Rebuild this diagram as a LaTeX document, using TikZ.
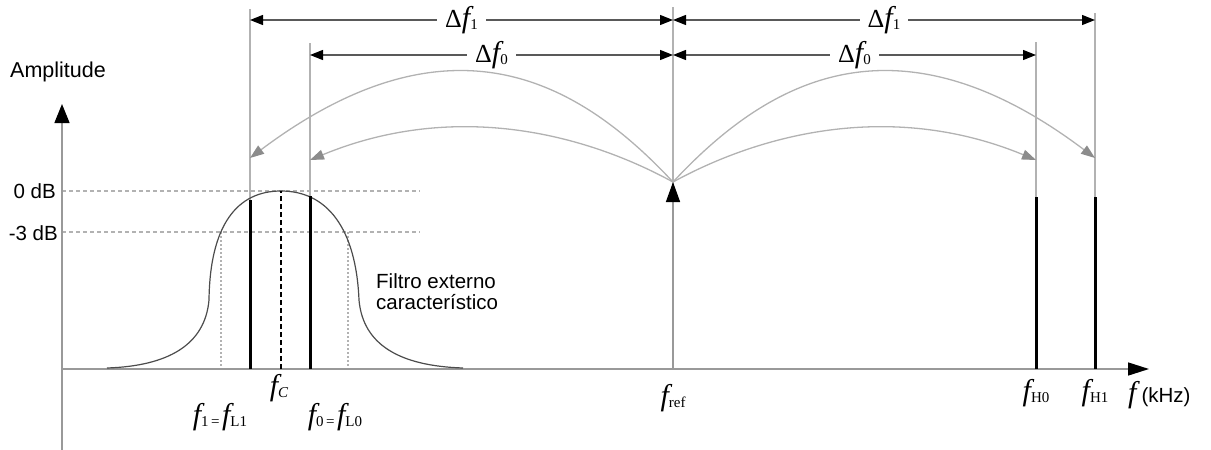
\documentclass[tikz,border=0pt]{standalone}
\usepackage{fontspec}
\setmainfont{Liberation Sans}
\newfontfamily\tms{Liberation Serif}
\usetikzlibrary{arrows.meta, positioning}

% frequency symbol and its small index
\newcommand{\ff}{{\tms\fontsize{30}{30}\selectfont\itshape f}}
\newcommand{\sbs}[1]{\raisebox{-0.45ex}{\tms\fontsize{15}{15}\selectfont #1}}
\newcommand{\dd}{{\tms\fontsize{26}{26}\selectfont Δ}}

\begin{document}
\begin{tikzpicture}[x=1pt, y=-1pt,
	ax/.style={draw=black!40, line width=1.5pt},
	guide/.style={draw=black!30, line width=1.2pt},
	tone/.style={line width=3pt},
	level/.style={draw=black!30, line width=1.2pt, dash pattern=on 4pt off 3pt},
	dim/.style={draw=black!65, line width=1.3pt,
		{Triangle[length=13pt,width=10pt,color=black]}-{Triangle[length=13pt,width=10pt,color=black]}},
	jump/.style={draw=black!30, line width=1.3pt, -{Triangle[length=14pt,width=10pt,color=black!45]}},
	dlbl/.style={fill=white, inner xsep=8pt, inner ysep=0pt},
	flbl/.style={inner sep=0pt},
	txt/.style={font=\fontsize{20.5}{21}\selectfont, inner sep=0pt}]
	\useasboundingbox (0,0) rectangle (1211,450);
	% puntos sobre el eje de frecuencia
	\coordinate (O) at (62,369);
	\coordinate (f1) at (250,369);
	\coordinate (fc) at (281,369);
	\coordinate (f0) at (310,369);
	\coordinate (fr) at (673,369);
	\coordinate (fh0) at (1036,369);
	\coordinate (fh1) at (1095,369);
	% niveles 0 dB y -3 dB
	\draw[level] (O |- 0,191) -- (420,191);
	\draw[level] (O |- 0,232) -- (420,232);
	\draw[black!30, line width=1.2pt, dash pattern=on 2pt off 2pt] (221,232) -- (221,369);
	\draw[black!30, line width=1.2pt, dash pattern=on 2pt off 2pt] (348,232) -- (348,369);
	% ejes
	\coordinate (ybot) at (62,450);
	\draw[ax, -{Triangle[length=19pt,width=15pt,color=black]}] (ybot) -- (62,104) coordinate (ytop);
	\draw[ax, -{Triangle[length=21pt,width=13pt,color=black]}] (O) -- (1149,369) coordinate (xend);
	% lineas guia
	\draw[guide] (f1) -- (f1 |- 0,9);
	\draw[guide] (f0) -- (f0 |- 0,43);
	\draw[guide] (fr) -- (fr |- 0,7);
	\draw[guide] (fh0) -- (fh0 |- 0,42);
	\draw[guide] (fh1) -- (fh1 |- 0,13);
	% filtro
	\draw[black!70, line width=1.2pt] (107,368) .. controls (168,366) and (205,345) .. (209,300)
		.. controls (210,225) and (237,191) .. (281,191)
		.. controls (327,191) and (356,228) .. (359,300)
		.. controls (363,345) and (400,366) .. (463,368);
	% tonos
	\draw[tone] (f1) -- (f1 |- 0,200);
	\draw[tone] (f0) -- (f0 |- 0,196);
	\draw[tone] (fh0) -- (fh0 |- 0,197);
	\draw[tone] (fh1) -- (fh1 |- 0,197);
	\draw[line width=2pt, dash pattern=on 5pt off 3pt] (fc) -- (fc |- 0,191);
	\draw[ax, -{Triangle[length=20pt,width=14pt,color=black]}] (fr) -- (fr |- 0,182) coordinate (src);
	% saltos
	\draw[jump] (src) .. controls (578,80) and (450,8) .. (f1 |- 0,158);
	\draw[jump] (src) .. controls (576,129) and (448,103) .. (f0 |- 0,160);
	\draw[jump] (src) .. controls (768,80) and (896,8) .. (fh1 |- 0,158);
	\draw[jump] (src) .. controls (770,129) and (898,103) .. (fh0 |- 0,160);
	% cotas
	\draw[dim] (f1 |- 0,20) -- node[dlbl] {\dd\ff\sbs{1}} (fr |- 0,20);
	\draw[dim] (fr |- 0,20) -- node[dlbl] {\dd\ff\sbs{1}} (fh1 |- 0,20);
	\draw[dim] (f0 |- 0,55) -- node[dlbl] {\dd\ff\sbs{0}} (fr |- 0,55);
	\draw[dim] (fr |- 0,55) -- node[dlbl] {\dd\ff\sbs{0}} (fh0 |- 0,55);
	% etiquetas
	\node[flbl, below=5pt of fc, xshift=-2pt] {\ff\sbs{\itshape C}};
	\node[flbl, anchor=north] at (220,403) {\ff\sbs{1\,=\,}\ff\sbs{L1}};
	\node[flbl, anchor=north] at (335,403) {\ff\sbs{0\,=\,}\ff\sbs{L0}};
	\node[flbl, below=15pt of fr] {\ff\sbs{ref}};
	\node[flbl, below=10pt of fh0] {\ff\sbs{H0}};
	\node[flbl, below=10pt of fh1] {\ff\sbs{H1}};
	\node[flbl, anchor=west] at (1128,395) {\ff\hspace{5pt}{\fontsize{20.5}{20}\selectfont (kHz)}};
	\node[txt, anchor=west, font=\fontsize{21.5}{22}\selectfont] at (10,72) {Amplitude};
	\node[txt, anchor=east] at (56,191) {0 dB};
	\node[txt, anchor=east] at (58,233) {-3 dB};
	\node[txt, anchor=west, align=left] at (376,292) {Filtro externo\\característico};
\end{tikzpicture}
\end{document}
